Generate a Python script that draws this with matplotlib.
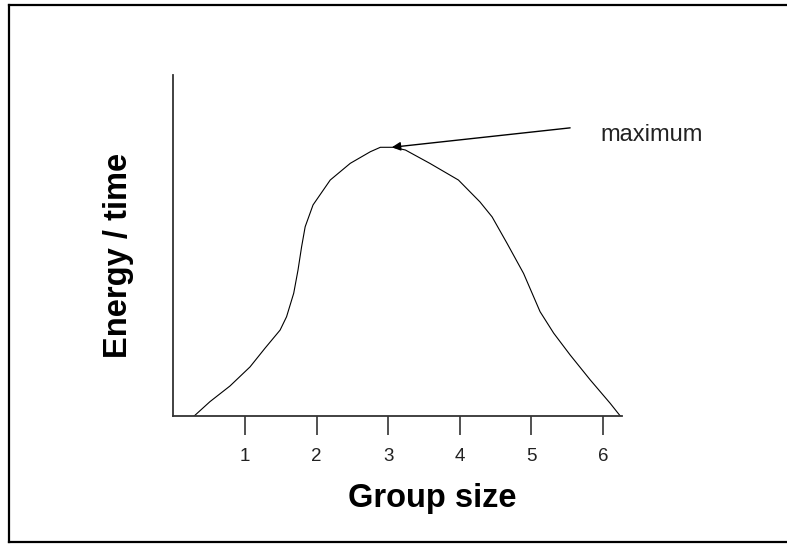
import matplotlib.pyplot as plt
from matplotlib.lines import Line2D

# curve (group size vs energy / time)
group_size = [0.29, 0.51, 0.79, 1.07, 1.28, 1.49, 1.58, 1.68, 1.74, 1.79, 1.84,
              1.95, 2.19, 2.47, 2.75, 2.89, 3.07, 3.24, 3.58, 3.98, 4.28, 4.45,
              4.66, 4.89, 5.12, 5.31, 5.54, 5.82, 6.10, 6.24]
energy = [0.0, 0.42, 0.88, 1.44, 1.99, 2.52, 2.91, 3.60, 4.28, 4.96, 5.55,
          6.19, 6.92, 7.41, 7.75, 7.88, 7.88, 7.80, 7.41, 6.92, 6.28, 5.84,
          5.06, 4.18, 3.06, 2.43, 1.79, 1.06, 0.37, 0.0]
xticks = [1, 2, 3, 4, 5, 6]
peak = (3.05, 7.88)
label_pos = (5.54, 8.45)

W, H = 787, 544
fig = plt.figure(figsize=(W / 100, H / 100), dpi=100)
ax = fig.add_axes([173.4 / W, 1 - 416 / H, 448.3 / W, 341 / H])

ax.plot(group_size, energy, color='black', lw=0.8)
ax.set_xlim(0, 6.26)
ax.set_ylim(0, 10)

for s in ['top', 'right']:
    ax.spines[s].set_visible(False)
for s in ['left', 'bottom']:
    ax.spines[s].set_linewidth(1.3)
    ax.spines[s].set_color('#333333')

ax.set_yticks([])
ax.set_xticks(xticks)
ax.set_xticklabels([str(t) for t in xticks], fontsize=13.5, family='Liberation Sans',
                   color='#222222')
ax.tick_params(axis='x', direction='out', length=13.7, width=1.2, color='#333333', pad=9)

ax.annotate('', xy=peak, xytext=label_pos,
            arrowprops=dict(arrowstyle='-|>', color='black', lw=1.0, mutation_scale=13,
                            shrinkA=0, shrinkB=0))
fig.text(600 / W, 1 - 134.5 / H, 'maximum', fontsize=17, family='Liberation Sans',
         va='center', ha='left', color='#222222')

fig.text(432 / W, 1 - 498 / H, 'Group size', fontsize=23.5, fontweight='bold',
         family='Liberation Sans', ha='center', va='center')
fig.text(118 / W, 1 - 255 / H, 'Energy / time', fontsize=23.5, fontweight='bold',
         family='Liberation Sans', ha='center', va='center', rotation=90)

# frame around the picture (open on the right side)
lw = 1.6
fig.add_artist(Line2D([8.5 / W, 8.5 / W], [1 - 4.5 / H, 1 - 541.5 / H], color='black', lw=lw))
fig.add_artist(Line2D([8.5 / W, 1.0], [1 - 4.5 / H, 1 - 4.5 / H], color='black', lw=lw))
fig.add_artist(Line2D([8.5 / W, 1.0], [1 - 541.5 / H, 1 - 541.5 / H], color='black', lw=lw))

fig.savefig('out.png', dpi=100)
